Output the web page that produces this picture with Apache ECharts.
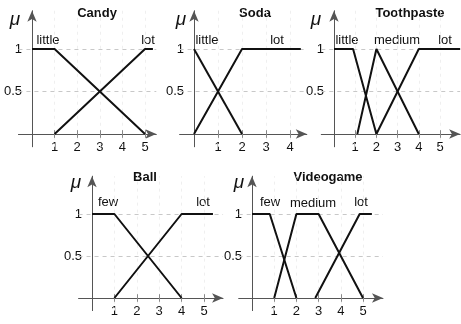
<!DOCTYPE html>
<html>
<head>
<meta charset="utf-8">
<script src="https://cdn.jsdelivr.net/npm/echarts@6/dist/echarts.min.js"></script>
<style>
 html,body{margin:0;padding:0;background:#fff;}
 #chart{width:461px;height:324px;}
</style>
</head>
<body>
<div id="chart"></div>
<script>
// membership functions, [x, mu] corner points
var candyLittle = [[0, 1], [1, 1], [5, 0]];
var candyLot = [[1, 0], [5, 1], [5.35, 1]];
var sodaLittle = [[0, 1], [2, 0]];
var sodaLot = [[0, 0], [2, 1], [4.45, 1]];
var toothLittle = [[0, 1], [0.9, 1], [2, 0]];
var toothMedium = [[1.1, 0], [2, 1], [4, 0]];
var toothLot = [[2, 0], [4, 1], [5.95, 1]];
var ballFew = [[0, 1], [1, 1], [4, 0]];
var ballLot = [[1, 0], [4, 1], [5.4, 1]];
var gameFew = [[0, 1], [0.8, 1], [2, 0]];
var gameMedium = [[1, 0], [2, 1], [3, 1], [5, 0]];
var gameLot = [[2.85, 0], [4.85, 1], [5.4, 1]];

var titles = ['Candy', 'Soda', 'Toothpaste', 'Ball', 'Videogame'];
var setNames = [['little', 'lot'], ['little', 'lot'], ['little', 'medium', 'lot'], ['few', 'lot'], ['few', 'medium', 'lot']];
var xTicks = [[1, 2, 3, 4, 5], [1, 2, 3, 4], [1, 2, 3, 4, 5], [1, 2, 3, 4, 5], [1, 2, 3, 4, 5]];
var yTicks = [0.5, 1];
var muLabel = 'μ';

// panel geometry: pixel of x=0, px per x unit, pixel of mu=0, px per mu unit, axis end
var panels = [
	{x0: 32, sx: 22.6, y0: 134, sy: 85, xmax: 5.5, sets: [candyLittle, candyLot],
	 title: [97, 13], mu: [15, 20], names: [[48, 40], [148, 40]]},
	{x0: 194, sx: 24, y0: 134, sy: 85, xmax: 4.7, sets: [sodaLittle, sodaLot],
	 title: [255, 13], mu: [181, 20], names: [[207, 40], [277, 40]]},
	{x0: 334, sx: 21.2, y0: 134, sy: 85, xmax: 5.95, sets: [toothLittle, toothMedium, toothLot],
	 title: [410, 13], mu: [316, 20], names: [[347, 40], [397, 40], [445, 40]]},
	{x0: 92, sx: 22.4, y0: 298, sy: 84, xmax: 5.85, sets: [ballFew, ballLot],
	 title: [145, 177], mu: [76, 183], names: [[108, 202], [203, 202]]},
	{x0: 252, sx: 22.2, y0: 298, sy: 84, xmax: 5.9, sets: [gameFew, gameMedium, gameLot],
	 title: [328, 177], mu: [239, 183], names: [[270, 202], [313, 203], [361, 202]]}
];

var XMIN = -0.6, YMIN = -0.15, YMAX = 1.45;
var font = '"Liberation Sans", Arial, sans-serif';

var grids = [], xAxes = [], yAxes = [], series = [], texts = [];

for (var i = 0; i < panels.length; i++) {
	var p = panels[i];
	grids.push({
		left: p.x0 + XMIN * p.sx,
		top: p.y0 - YMAX * p.sy,
		width: (p.xmax - XMIN) * p.sx,
		height: (YMAX - YMIN) * p.sy
	});
	// labels sit on the grid edge, so pull them back to the crossing axes
	xAxes.push({
		gridIndex: i, type: 'value', min: XMIN, max: p.xmax,
		axisLine: {onZero: true, symbol: ['none', 'arrow'], symbolSize: [7, 11],
			lineStyle: {color: '#555', width: 1}},
		axisTick: {show: false},
		axisLabel: {customValues: xTicks[i], margin: 7 + YMIN * p.sy, color: '#111', fontSize: 13, fontFamily: font},
		splitLine: {show: false}
	});
	yAxes.push({
		gridIndex: i, type: 'value', min: YMIN, max: YMAX,
		axisLine: {onZero: true, symbol: ['none', 'arrow'], symbolSize: [7, 11],
			lineStyle: {color: '#555', width: 1}},
		axisTick: {show: false},
		axisLabel: {customValues: yTicks, margin: 10 + XMIN * p.sx, color: '#111', fontSize: 13, fontFamily: font},
		splitLine: {show: false}
	});

	// guide lines underneath the curves
	var ml = [];
	for (var t = 0; t < yTicks.length; t++) ml.push({yAxis: yTicks[t], lineStyle: {color: '#c8c8c8', type: [4, 4], width: 1}});
	for (var t = 0; t < xTicks[i].length; t++) {
		ml.push({xAxis: xTicks[i][t], lineStyle: {color: '#efefef', type: [3, 4], width: 1}});
		ml.push([{coord: [xTicks[i][t], -0.045], lineStyle: {color: '#888', type: 'solid', width: 1}}, {coord: [xTicks[i][t], 0.045]}]);
	}
	series.push({type: 'line', xAxisIndex: i, yAxisIndex: i, data: [], z: 1, silent: true,
		markLine: {z: 1, silent: true, symbol: 'none', label: {show: false}, animation: false, data: ml}});

	for (var k = 0; k < p.sets.length; k++) {
		series.push({
			name: titles[i] + ' ' + setNames[i][k],
			type: 'line', xAxisIndex: i, yAxisIndex: i, z: 6,
			data: p.sets[k], symbol: 'none', animation: false,
			lineStyle: {color: '#111', width: 2}
		});
		texts.push({type: 'text', x: p.names[k][0], y: p.names[k][1],
			style: {text: setNames[i][k], fill: '#111', font: '13px ' + font, align: 'center', verticalAlign: 'middle'}});
	}
	texts.push({type: 'text', x: p.title[0], y: p.title[1],
		style: {text: titles[i], fill: '#111', font: 'bold 13px ' + font, align: 'center', verticalAlign: 'middle'}});
	texts.push({type: 'text', x: p.mu[0], y: p.mu[1],
		style: {text: muLabel, fill: '#111', font: 'italic 19px ' + font, align: 'center', verticalAlign: 'middle'}});
}

var myChart = echarts.init(document.getElementById('chart'));
myChart.setOption({
	animation: false,
	backgroundColor: '#fff',
	grid: grids,
	xAxis: xAxes,
	yAxis: yAxes,
	series: series,
	graphic: texts
});
</script>
</body>
</html>
